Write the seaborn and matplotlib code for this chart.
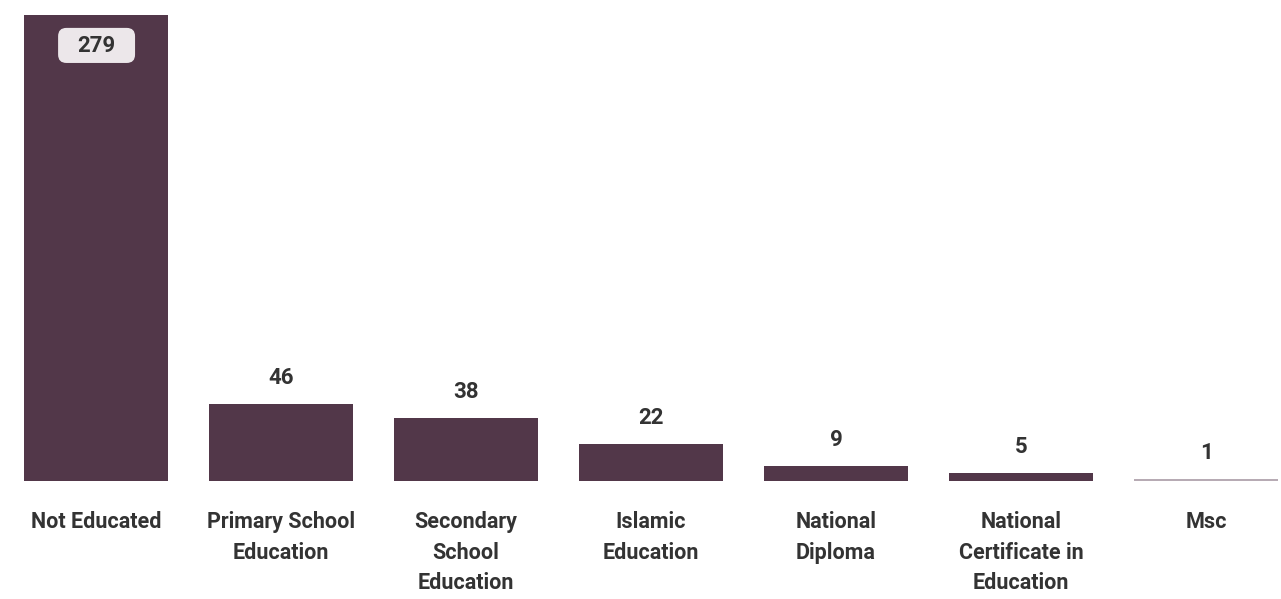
import pandas as pd
import matplotlib.pyplot as plt
import seaborn as sns
from matplotlib.patches import FancyBboxPatch

# --- data ---
categories = ["Not Educated", "Primary School\nEducation", "Secondary\nSchool\nEducation",
              "Islamic\nEducation", "National\nDiploma", "National\nCertificate in\nEducation", "Msc"]
counts = [279, 46, 38, 22, 9, 5, 1]

df = pd.DataFrame({"Category": categories, "Count": counts})

BAR = "#56334B"
FAINT = "#B9A9B5"
TEXT = "#333333"
palette = [BAR] * 6 + [FAINT]

sns.set_theme(style="white")
plt.rcParams["font.family"] = ["Roboto", "DejaVu Sans"]

fig = plt.figure(figsize=(12.81, 5.99), dpi=100)
ax = fig.add_axes([0, 0.197, 1, 0.803])

sns.barplot(data=df, x="Category", y="Count", hue="Category", palette=palette,
            legend=False, width=0.778, edgecolor="none", linewidth=0, ax=ax)

ax.set_xlim(-0.519, 6.405)
ax.set_ylim(0, 288)
ax.axis("off")

# value labels
for i, v in enumerate(counts):
    if i == 0:
        # label sits inside the tall bar on a light rounded tag
        ax.text(i, v - 18.5, str(v), ha="center", va="center", fontsize=16,
                fontweight="bold", color=TEXT, zorder=5)
        box = FancyBboxPatch((i - 0.205, v - 28.7), 0.416, 21,
                             boxstyle="round,pad=0,rounding_size=0.045",
                             facecolor="#ECE7EA", edgecolor="none", zorder=4,
                             mutation_aspect=110.8)
        ax.add_patch(box)
    else:
        ax.text(i, v + 9, str(v), ha="center", va="bottom", fontsize=16,
                fontweight="bold", color=TEXT)

# category labels below the bars
for i, c in enumerate(categories):
    ax.text(i, -18, c, ha="center", va="top", fontsize=15.5, fontweight="bold",
            color=TEXT, linespacing=1.5)

fig.savefig("out.png", dpi=100, facecolor="white")
plt.close()
